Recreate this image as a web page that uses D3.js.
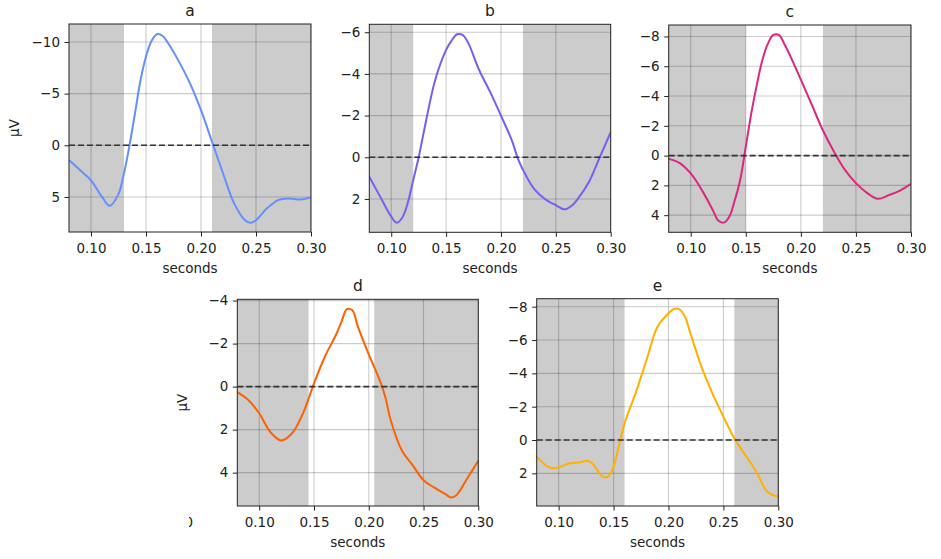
<!DOCTYPE html>
<html><head><meta charset="utf-8">
<script src="https://cdn.jsdelivr.net/npm/d3@7"></script>
<style>
body{margin:0;background:#fff;}
text{font-family:"DejaVu Sans",sans-serif;fill:#222;}
</style></head>
<body>
<svg id="c" width="941" height="559"></svg>
<script>
// ---- data ----
const panelNames = ["a","b","c","d","e"];
const colors = ["#648FFF","#785EF0","#DC267F","#FE6100","#FFB000"];
const xTicks = [0.10,0.15,0.20,0.25,0.30];
const xDomain = [0.08,0.30];

const tA = [0.08,0.09,0.10,0.11,0.117,0.125,0.13,0.135,0.14,0.145,0.15,0.155,0.16,0.165,0.17,0.18,0.19,0.20,0.21,0.22,0.23,0.24,0.245,0.25,0.26,0.27,0.28,0.29,0.30];
const vA = [1.42,2.4,3.4,5.0,5.86,4.7,2.7,0,-3.1,-6.3,-8.6,-10.1,-10.75,-10.6,-9.9,-8.1,-6.0,-3.4,-0.35,2.7,5.6,7.25,7.5,7.25,6.1,5.3,5.15,5.25,5.05];

const tB = [0.08,0.09,0.10,0.105,0.11,0.115,0.12,0.125,0.13,0.14,0.15,0.155,0.16,0.165,0.17,0.18,0.19,0.20,0.21,0.215,0.22,0.23,0.24,0.25,0.258,0.265,0.27,0.28,0.29,0.30];
const vB = [0.93,1.9,2.85,3.14,2.9,2.2,1.1,0,-1.3,-3.7,-5.15,-5.6,-5.9,-5.87,-5.5,-4.2,-3.15,-2.0,-0.8,0,0.6,1.5,2.0,2.3,2.5,2.3,2.0,1.2,0,-1.2];

const tC = [0.08,0.09,0.10,0.11,0.12,0.125,0.13,0.135,0.14,0.145,0.15,0.155,0.16,0.165,0.17,0.175,0.18,0.185,0.19,0.20,0.21,0.22,0.23,0.24,0.25,0.26,0.27,0.28,0.29,0.30];
const vC = [0.22,0.5,1.2,2.3,3.65,4.36,4.5,4.1,3.0,1.6,-0.6,-2.85,-4.75,-6.4,-7.5,-8.1,-8.1,-7.5,-6.75,-5.1,-3.4,-1.7,-0.27,0.96,1.85,2.5,2.9,2.65,2.35,1.9];

const tD = [0.08,0.09,0.10,0.11,0.12,0.13,0.14,0.15,0.16,0.17,0.175,0.18,0.185,0.19,0.20,0.21,0.215,0.22,0.23,0.24,0.25,0.26,0.27,0.275,0.28,0.29,0.30];
const vD = [0.26,0.62,1.24,2.1,2.5,2.17,1.24,-0.15,-1.4,-2.4,-3.0,-3.6,-3.55,-2.8,-1.5,-0.3,0.46,1.55,2.95,3.65,4.35,4.7,5.0,5.15,5.05,4.26,3.45];

const tE = [0.08,0.09,0.095,0.10,0.11,0.12,0.125,0.13,0.135,0.14,0.145,0.15,0.155,0.16,0.17,0.18,0.19,0.20,0.205,0.21,0.215,0.22,0.23,0.24,0.25,0.26,0.27,0.28,0.29,0.30];
const vE = [1.0,1.6,1.7,1.64,1.4,1.34,1.24,1.36,1.8,2.2,2.2,1.6,0.3,-1.0,-2.8,-4.8,-6.8,-7.6,-7.86,-7.84,-7.4,-6.4,-4.4,-2.8,-1.4,-0.1,0.9,1.9,3.1,3.4];

const times = [tA,tB,tC,tD,tE];
const values = [vA,vB,vC,vD,vE];
const yTicksList = [[-10,-5,0,5],[-6,-4,-2,0,2],[-8,-6,-4,-2,0,2,4],[-4,-2,0,2,4],[-8,-6,-4,-2,0,2]];
const yDomains = [[-11.74,8.39],[-6.38,3.6],[-8.77,5.15],[-4.06,5.55],[-8.48,3.96]];
const shadeRanges = [[[0.08,0.13],[0.21,0.30]],[[0.08,0.12],[0.22,0.30]],[[0.08,0.15],[0.22,0.30]],[[0.08,0.145],[0.205,0.30]],[[0.08,0.16],[0.26,0.30]]];
const showYLabel = [true,false,false,true,false];

// ---- layout ----
const boxes = [
  {l:69, t:24, r:311, b:232},
  {l:369.3, t:24.3, r:610.7, b:232.3},
  {l:668.7, t:25, r:911, b:232.3},
  {l:237.3, t:299.3, r:478.3, b:506},
  {l:536.7, t:298.7, r:778.3, b:506}
];
const FS = 13.5;

const svg = d3.select("#c");
const fmtY = d => (d<0 ? "\u2212"+Math.abs(d) : String(d));

// stray clipped glyph at left of lower row (artifact in the original figure)
svg.append("clipPath").attr("id","strayclip").append("rect").attr("x",189).attr("y",505).attr("width",10).attr("height",30);
svg.append("text").attr("x",184.5).attr("y",526.5).attr("font-size",FS).attr("clip-path","url(#strayclip)").text("0");

panelNames.forEach((name,i)=>{
  const bx = boxes[i];
  const x = d3.scaleLinear().domain(xDomain).range([bx.l,bx.r]);
  const y = d3.scaleLinear().domain(yDomains[i]).range([bx.t,bx.b]);
  const g = svg.append("g");
  const clipId = "clip"+i;
  g.append("clipPath").attr("id",clipId).append("rect")
    .attr("x",bx.l).attr("y",bx.t).attr("width",bx.r-bx.l).attr("height",bx.b-bx.t);
  const inner = g.append("g").attr("clip-path",`url(#${clipId})`);
  // shading
  inner.selectAll("rect.sh").data(shadeRanges[i]).join("rect")
    .attr("x",d=>x(d[0])).attr("width",d=>x(d[1])-x(d[0]))
    .attr("y",bx.t).attr("height",bx.b-bx.t).attr("fill","#cccccc");
  // grid
  inner.selectAll("line.gx").data(xTicks).join("line")
    .attr("x1",d=>x(d)).attr("x2",d=>x(d)).attr("y1",bx.t).attr("y2",bx.b)
    .attr("stroke","#000").attr("stroke-opacity",0.2).attr("stroke-width",1.1);
  inner.selectAll("line.gy").data(yTicksList[i]).join("line")
    .attr("y1",d=>y(d)).attr("y2",d=>y(d)).attr("x1",bx.l).attr("x2",bx.r)
    .attr("stroke","#000").attr("stroke-opacity",0.2).attr("stroke-width",1.1);
  // curve
  const line = d3.line().x((d,k)=>x(times[i][k])).y(d=>y(d)).curve(d3.curveCatmullRom.alpha(0.5));
  inner.append("path").attr("d",line(values[i])).attr("fill","none")
    .attr("stroke",colors[i]).attr("stroke-width",2);
  // zero line
  inner.append("line").attr("x1",bx.l).attr("x2",bx.r).attr("y1",y(0)).attr("y2",y(0))
    .attr("stroke","#333").attr("stroke-width",1.6).attr("stroke-dasharray","6,3");
  // frame
  g.append("rect").attr("x",bx.l).attr("y",bx.t).attr("width",bx.r-bx.l).attr("height",bx.b-bx.t)
    .attr("fill","none").attr("stroke","#222").attr("stroke-width",1);
  // axes
  const xAxis = d3.axisBottom(x).tickValues(xTicks).tickFormat(d3.format(".2f")).tickSize(4.5).tickPadding(6.5);
  const gx = g.append("g").attr("transform",`translate(0,${bx.b})`).call(xAxis);
  const yAxis = d3.axisLeft(y).tickValues(yTicksList[i]).tickFormat(fmtY).tickSize(4.5).tickPadding(4.5);
  const gy = g.append("g").attr("transform",`translate(${bx.l},0)`).call(yAxis);
  [gx,gy].forEach(a=>{
    a.select(".domain").remove();
    a.selectAll("line").attr("stroke","#222");
    a.selectAll("text").attr("font-size",FS).attr("fill","#222").style("font-family","DejaVu Sans");
  });
  // labels
  g.append("text").attr("x",(bx.l+bx.r)/2).attr("y",bx.t-8).attr("text-anchor","middle")
    .attr("font-size",15.5).text(name);
  g.append("text").attr("x",(bx.l+bx.r)/2).attr("y",bx.b+40.5).attr("text-anchor","middle")
    .attr("font-size",FS).text("seconds");
  if(showYLabel[i]){
    const cy=(bx.t+bx.b)/2;
    const lx = bx.l-50;
    g.append("text").attr("transform",`translate(${lx},${cy}) rotate(-90)`)
      .attr("text-anchor","middle").attr("font-size",FS).text("µV");
  }
});
</script>
</body></html>
